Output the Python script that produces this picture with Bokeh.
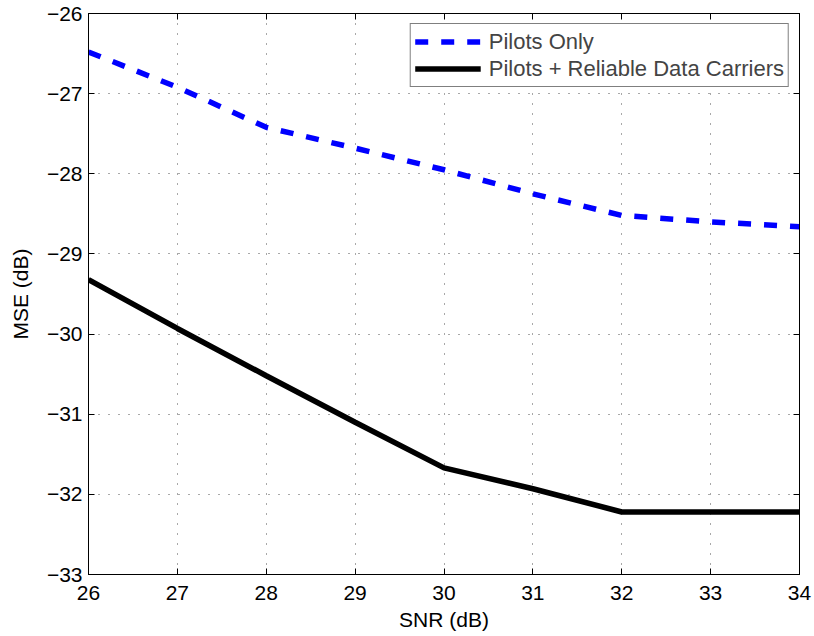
from bokeh.plotting import figure
from bokeh.models import LinearAxis, Range1d, Legend, LegendItem, FixedTicker
from bokeh.embed import file_html
from bokeh.resources import INLINE

snr = [26, 27, 28, 29, 30, 31, 32, 33, 34]
pilots_only = [-26.48, -26.92, -27.42, -27.68, -27.95, -28.25, -28.52, -28.60, -28.66]
pilots_reliable = [-29.32, -29.93, -30.52, -31.10, -31.67, -31.93, -32.22, -32.22, -32.22]
x_ticks = [26, 27, 28, 29, 30, 31, 32, 33, 34]
y_ticks = [-33, -32, -31, -30, -29, -28, -27, -26]
series_names = ["Pilots Only", "Pilots + Reliable Data Carriers"]

FONT = "Liberation Sans"

p = figure(width=814, height=636, output_backend="svg", toolbar_location=None,
           x_range=Range1d(26, 34), y_range=Range1d(-33, -26))
p.min_border_left = 88
p.min_border_right = 15
p.min_border_top = 13
p.min_border_bottom = 62
p.outline_line_color = "black"
p.outline_line_width = 1
p.background_fill_color = "white"
p.border_fill_color = "white"

r1 = p.line(snr, pilots_only, line_color="#0000ff", line_width=5.5, line_dash="13 13")
r2 = p.line(snr, pilots_reliable, line_color="black", line_width=5.5)

def minus(v):
    return ("\u2212" + str(abs(v))) if v < 0 else str(v)

xa = p.xaxis[0]
ya = p.yaxis[0]
xa.ticker = FixedTicker(ticks=x_ticks)
xa.major_label_overrides = {t: minus(t) for t in x_ticks}
xa.axis_label = "SNR (dB)"
ya.ticker = FixedTicker(ticks=y_ticks)
ya.major_label_overrides = {t: minus(t) for t in y_ticks}
ya.axis_label = "MSE (dB)"

for ax in (xa, ya):
    ax.axis_line_color = "black"
    ax.major_tick_in = 6
    ax.major_tick_out = 0
    ax.minor_tick_line_color = None
    ax.major_label_text_font = FONT
    ax.major_label_text_font_size = "21px"
    ax.major_label_text_color = "black"
    ax.axis_label_text_font = FONT
    ax.axis_label_text_font_size = "21px"
    ax.axis_label_text_font_style = "normal"
    ax.axis_label_text_color = "black"
xa.major_label_standoff = 11
xa.axis_label_standoff = 5
ya.major_label_standoff = 6
ya.axis_label_standoff = 12

top = LinearAxis(ticker=FixedTicker(ticks=x_ticks),
                 major_label_overrides={t: "" for t in x_ticks},
                 major_tick_in=6, major_tick_out=0, minor_tick_line_color=None,
                 major_label_standoff=0)
right = LinearAxis(ticker=FixedTicker(ticks=y_ticks),
                   major_label_overrides={t: "" for t in y_ticks},
                   major_tick_in=6, major_tick_out=0, minor_tick_line_color=None,
                   major_label_standoff=0)
p.add_layout(top, "above")
p.add_layout(right, "right")

xg = p.xgrid[0]
yg = p.ygrid[0]
xg.ticker = FixedTicker(ticks=x_ticks)
yg.ticker = FixedTicker(ticks=y_ticks)
for g in (xg, yg):
    g.grid_line_color = "#333333"
    g.grid_line_width = 1
    g.grid_line_dash = "1 9"
    g.grid_line_alpha = 0.85

legend = Legend(items=[LegendItem(label=series_names[0], renderers=[r1]),
                       LegendItem(label=series_names[1], renderers=[r2])],
                location="top_right")
legend.border_line_color = "black"
legend.border_line_width = 1
legend.label_text_font = FONT
legend.label_text_font_size = "22px"
legend.glyph_width = 66
legend.glyph_height = 27
legend.label_height = 27
legend.spacing = 0
legend.padding = 4
legend.margin = 10
legend.label_standoff = 8
legend.background_fill_alpha = 1
p.add_layout(legend)

open("out.html", "w").write(file_html(p, INLINE))
